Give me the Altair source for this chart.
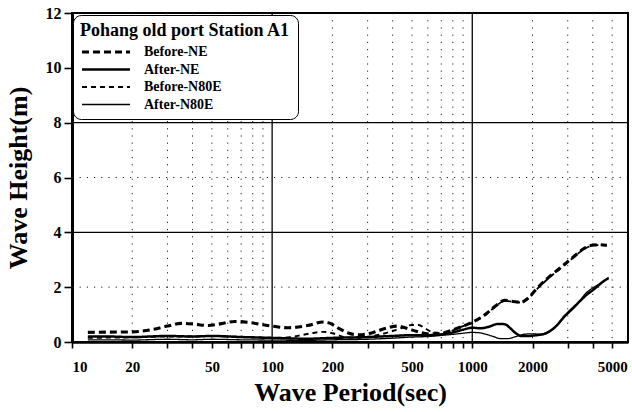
import altair as alt
import pandas as pd

FONT = "Liberation Serif"

series_names = ["Before-NE", "After-NE", "Before-N80E", "After-N80E"]

before_ne_x = [12, 15, 20, 25, 30, 35, 40, 48, 55, 65, 75, 90, 100, 120, 150, 180, 195, 215, 240, 270,
               320, 370, 420, 470, 530, 600, 680, 780, 900, 1000, 1150, 1300, 1450, 1600, 1750, 1900,
               2100, 2400, 2800, 3200, 3600, 3900, 4300, 4700]
before_ne_y = [0.35, 0.36, 0.37, 0.45, 0.58, 0.68, 0.66, 0.6, 0.66, 0.75, 0.72, 0.63, 0.58, 0.52, 0.6,
               0.73, 0.68, 0.5, 0.33, 0.26, 0.35, 0.5, 0.58, 0.5, 0.38, 0.3, 0.3, 0.42, 0.58, 0.72,
               0.98, 1.3, 1.52, 1.48, 1.45, 1.6, 1.95, 2.35, 2.75, 3.1, 3.4, 3.52, 3.55, 3.53]

after_ne_x = [12, 15, 20, 30, 40, 50, 70, 100, 150, 200, 300, 400, 500, 600, 700, 800, 900, 1000, 1100,
              1200, 1350, 1450, 1550, 1650, 1750, 1900, 2100, 2300, 2600, 2900, 3300, 3700, 4100, 4500, 4800]
after_ne_y = [0.2, 0.2, 0.18, 0.22, 0.2, 0.22, 0.18, 0.15, 0.12, 0.15, 0.18, 0.22, 0.25, 0.25, 0.28,
              0.35, 0.45, 0.52, 0.5, 0.55, 0.66, 0.65, 0.5, 0.32, 0.22, 0.22, 0.25, 0.3, 0.55, 0.95,
              1.35, 1.7, 1.95, 2.2, 2.33]

before_n80e_x = [12, 15, 20, 30, 40, 50, 60, 80, 100, 120, 140, 160, 180, 200, 230, 270, 320, 380, 440,
                 500, 540, 580, 640, 720, 800, 900, 1000, 1150, 1300, 1450, 1600, 1750, 1900, 2100,
                 2400, 2800, 3200, 3600, 3900, 4300, 4700]
before_n80e_y = [0.15, 0.16, 0.17, 0.2, 0.2, 0.22, 0.2, 0.18, 0.15, 0.17, 0.25, 0.33, 0.37, 0.32, 0.18,
                 0.15, 0.22, 0.35, 0.5, 0.62, 0.62, 0.5, 0.35, 0.32, 0.42, 0.58, 0.7, 0.96, 1.28, 1.5,
                 1.47, 1.44, 1.58, 1.92, 2.32, 2.72, 3.08, 3.38, 3.5, 3.54, 3.52]

after_n80e_x = [12, 15, 20, 30, 40, 50, 70, 100, 150, 200, 300, 400, 500, 600, 700, 800, 900, 1000, 1100,
                1250, 1400, 1500, 1650, 1800, 2000, 2200, 2400, 2600, 2900, 3300, 3700, 4100, 4500, 4800]
after_n80e_y = [0.08, 0.08, 0.07, 0.1, 0.08, 0.1, 0.08, 0.07, 0.06, 0.08, 0.1, 0.14, 0.18, 0.2, 0.24,
                0.28, 0.32, 0.35, 0.33, 0.22, 0.12, 0.12, 0.2, 0.28, 0.3, 0.28, 0.38, 0.55, 0.92,
                1.32, 1.78, 2.02, 2.2, 2.35]

x_ticks = [10, 20, 30, 40, 50, 60, 70, 80, 90, 100, 200, 300, 400, 500, 600, 700, 800, 900,
           1000, 2000, 3000, 4000, 5000]
x_labels = [10, 20, 50, 100, 200, 500, 1000, 2000, 5000]
y_ticks = [0, 2, 4, 6, 8, 10, 12]

grid_x_dotted = [20, 30, 40, 50, 60, 70, 80, 90, 200, 300, 400, 500, 600, 700, 800, 900,
                 2000, 3000, 4000, 5000]
grid_x_solid = [100, 1000]
grid_y_dotted = [2, 6]
grid_y_solid = [4, 8]

rows = []
for name, xs, ys in [("Before-NE", before_ne_x, before_ne_y),
                     ("After-NE", after_ne_x, after_ne_y),
                     ("Before-N80E", before_n80e_x, before_n80e_y),
                     ("After-N80E", after_n80e_x, after_n80e_y)]:
    for i, (a, b) in enumerate(zip(xs, ys)):
        rows.append({"series": name, "period": a, "height": b, "order": i})
df = pd.DataFrame(rows)

xscale = alt.Scale(type="log", domain=[10, 6000], nice=False)
yscale = alt.Scale(domain=[0, 12], nice=False)

label_list = ",".join(str(v) for v in x_labels)

xaxis = alt.Axis(values=x_ticks, format="d",
                 labelExpr=f"indexof([{label_list}], datum.value) >= 0 ? datum.label : ''",
                 labelOverlap=False, grid=False, tickSize=6, tickWidth=1.6, tickColor="black",
                 domainColor="black", domainWidth=2.5, labelFont=FONT, labelFontSize=15,
                 labelFontWeight="bold", labelColor="black", labelPadding=11,
                 title="Wave Period(sec)", titleFont=FONT, titleFontSize=26,
                 titleFontWeight="bold", titleColor="black", titlePadding=5)
yaxis = alt.Axis(values=y_ticks, format="d", grid=False, tickSize=8, tickWidth=1.6,
                 tickColor="black", domainColor="black", domainWidth=3, labelFont=FONT,
                 labelFontSize=16, labelFontWeight="bold", labelColor="black", labelPadding=3,
                 title="Wave Height(m)", titleFont=FONT, titleFontSize=26,
                 titleFontWeight="bold", titleColor="black", titlePadding=14)

legend = alt.Legend(
    title="Pohang old port Station A1", orient="none", legendX=1, legendY=2,
    strokeColor="black", cornerRadius=8, fillColor="white", padding=7,
    titleFont=FONT, titleFontSize=18, titleFontWeight="bold", titleColor="black", titlePadding=5,
    titleLimit=400,
    labelFont=FONT, labelFontSize=14, labelFontWeight="bold", labelColor="black", labelOffset=12,
    symbolType="stroke", symbolSize=2300, symbolStrokeColor="black",
    clipHeight=14, rowPadding=3.5,
)

vx = pd.DataFrame({"v": grid_x_dotted})
vxs = pd.DataFrame({"v": grid_x_solid})
hy = pd.DataFrame({"v": grid_y_dotted})
hys = pd.DataFrame({"v": grid_y_solid})

g1 = alt.Chart(vx).mark_rule(color="#222", strokeWidth=1, strokeDash=[1.2, 6]).encode(
    x=alt.X("v:Q", scale=xscale, axis=xaxis))
g2 = alt.Chart(vxs).mark_rule(color="black", strokeWidth=1.3).encode(
    x=alt.X("v:Q", scale=xscale, axis=xaxis))
g3 = alt.Chart(hy).mark_rule(color="#222", strokeWidth=1, strokeDash=[1.2, 6]).encode(
    y=alt.Y("v:Q", scale=yscale, axis=yaxis))
g4 = alt.Chart(hys).mark_rule(color="black", strokeWidth=1.3).encode(
    y=alt.Y("v:Q", scale=yscale, axis=yaxis))

lines = alt.Chart(df).mark_line(color="black", interpolate="monotone").encode(
    x=alt.X("period:Q", scale=xscale, axis=xaxis),
    y=alt.Y("height:Q", scale=yscale, axis=yaxis),
    strokeDash=alt.StrokeDash("series:N",
                              scale=alt.Scale(domain=series_names,
                                              range=[[7, 4], [1, 0], [5, 4], [1, 0]]),
                              legend=legend),
    strokeWidth=alt.StrokeWidth("series:N",
                                scale=alt.Scale(domain=series_names, range=[3.1, 1.3]),
                                legend=legend),
    order="order:Q",
)

chart = alt.layer(g1, g2, g3, g4, lines).properties(
    width=556, height=329,
    autosize=alt.AutoSizeParams(type="none"),
    padding={"left": 72, "top": 13, "right": 4, "bottom": 70},
    background="white",
).configure_view(stroke="black", strokeWidth=2)

chart.save("out.html", embed_options={"renderer": "svg", "actions": False})
